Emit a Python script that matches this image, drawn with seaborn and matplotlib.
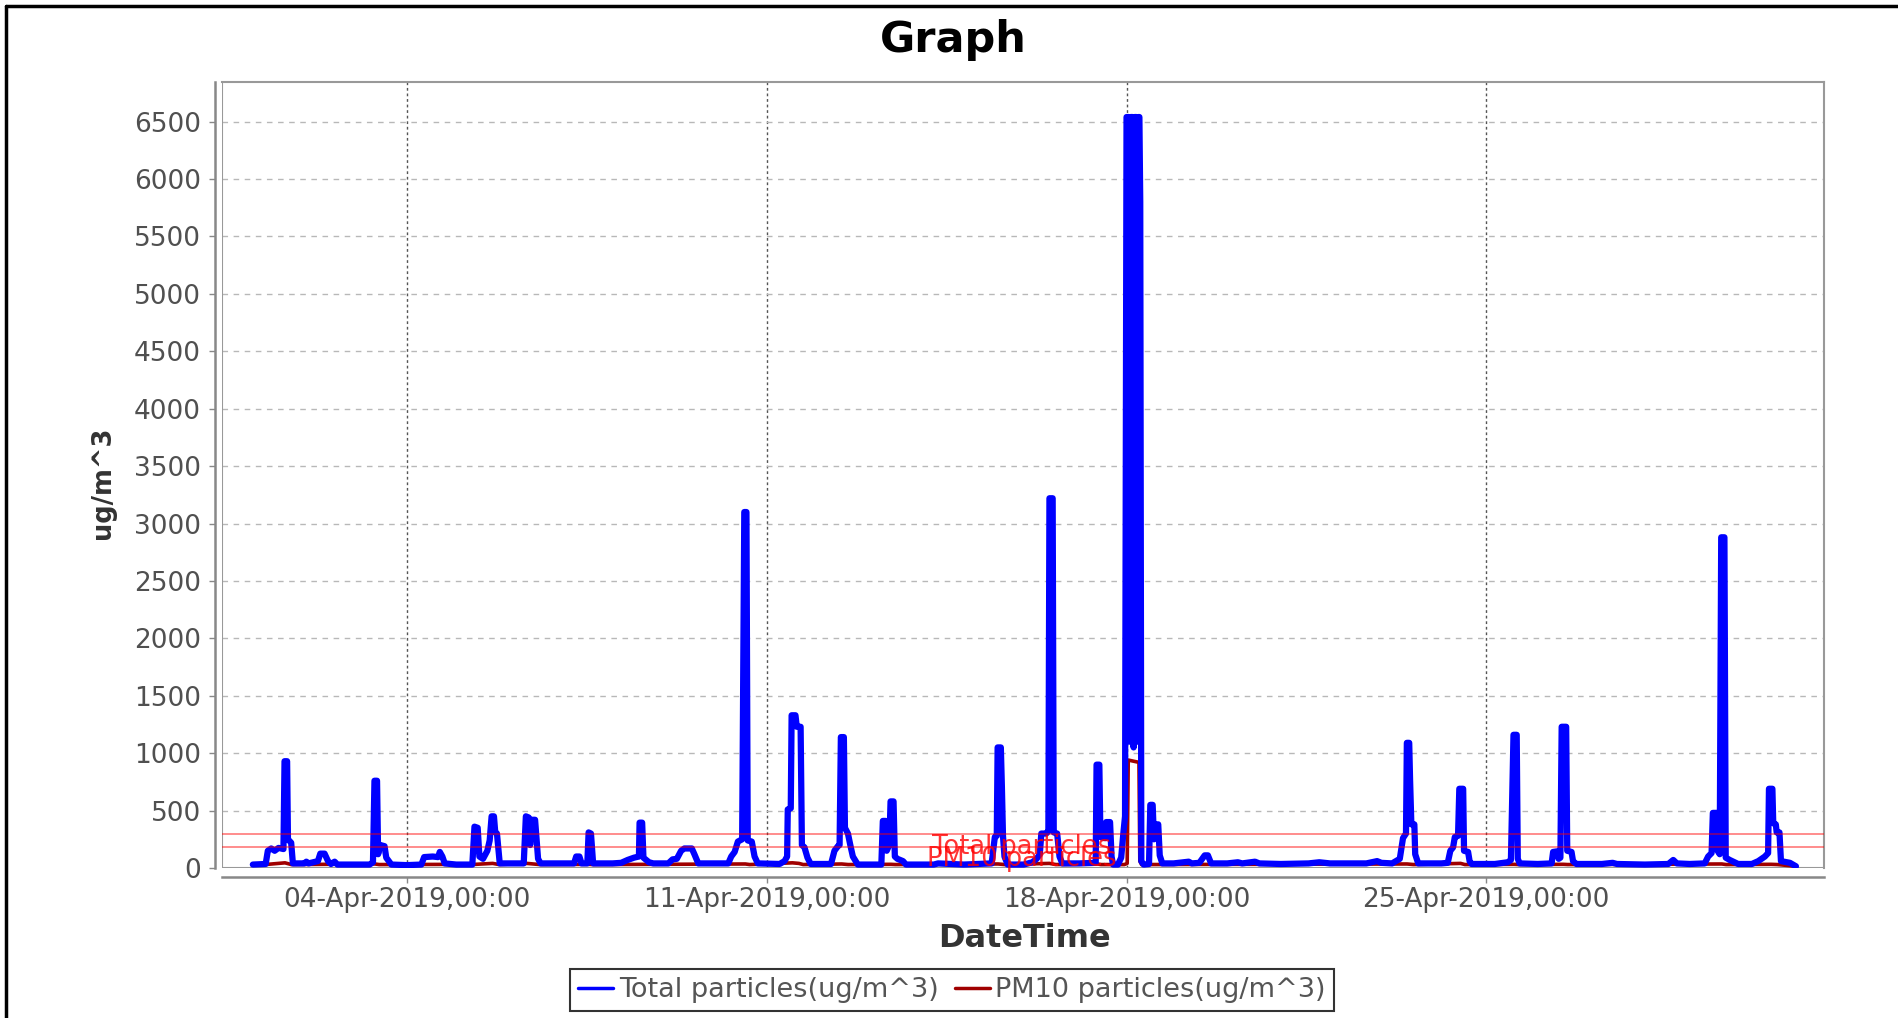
import matplotlib
matplotlib.use("Agg")
import matplotlib.pyplot as plt
import matplotlib.dates as mdates
from matplotlib.lines import Line2D
import pandas as pd
import seaborn as sns

START = pd.Timestamp("2019-04-01 00:00")

# hours after START, values in ug/m^3
total_hours = [
    0, 6, 7.0, 8.6, 10.2, 12, 14.3, 14.8, 16.0, 16.4, 17.9, 18.7,
    24, 25, 26, 30.4, 31.5, 33.5, 35.1, 36.5, 38.2, 39.5,
    54.5, 56.1, 56.8, 58.0, 58.5, 59.5, 61.5, 62.3, 64.7,
    72, 78.7, 80, 84, 86.5, 87.3, 88.5, 89.6, 95, 102.5,
    103.5, 105.0, 105.8, 107.5, 109.5, 110.6, 111.5, 112.6, 113.2, 114.0, 115.3,
    126.5, 127.5, 128.8, 129.5, 130.3, 131.8, 133.2, 134.4,
    150, 151.0, 152.5, 153.5, 156.2, 156.8, 157.9, 158.9,
    168, 172, 175, 178, 180.3, 180.6, 181.8, 182.4, 185, 187,
    194, 196, 198, 200, 201.5, 205, 206.2, 208,
    222, 223.4, 225, 226.5, 228.5, 229.5, 230.5, 231.1, 233, 234.3, 235.8,
    246, 248.3, 249.5, 249.8, 251.2, 251.6, 253.4, 254.0, 255.8, 256.4, 257.6, 259, 260.5,
    270, 271.6, 273.2, 274.0, 274.6, 276.0, 276.5, 277.9, 279, 280.2, 282.5,
    293.5, 294.2, 295.5, 296.0, 297.2, 297.8, 299.2, 299.8, 301, 303.6, 305,
    318, 320, 326, 332, 345.0, 346.5, 347.4, 347.8, 349.3, 349.8, 350.3, 351.0, 352.5,
    360, 364, 366, 367.5, 368.2, 370.5, 371.5, 372.0, 373.5, 374.0, 375.6, 376.7, 378.0,
    386, 393.6, 394.0, 395.3, 395.8, 398.0, 398.5, 400.3, 401.0, 401.7,
    404, 405.5, 406.5, 407.3, 408.0, 409.0, 409.5, 410.0, 410.8, 411.3, 411.8,
    412.6, 413.1, 413.6, 414.0, 414.4, 414.9,
    416, 418.5, 419.1, 420.2, 420.8, 421.5, 422.8, 423.5, 424.7,
    430, 437, 438.5, 442, 444.5, 446, 447.5,
    455, 460, 462, 468, 470, 480, 493, 498, 503, 520, 525, 527, 532,
    535.6, 537.1, 538.5, 538.9, 540.0, 540.4, 541.0, 542.4, 542.8, 544.2,
    555, 558, 559.2, 560.5, 561.3, 562.8, 563.4, 565.2, 565.6, 567.5, 568.2, 569.1,
    580, 586, 587.5, 588.7, 590.2, 590.7, 591.6,
    600, 606.5, 607.2, 609.0, 609.8, 610.6, 611.2, 613.3, 613.8, 615.8, 616.5, 618.1,
    630, 635, 637, 650, 661, 663.3, 665, 671, 678, 679.6, 681.2, 681.8, 683.5,
    684.0, 685.0, 685.7, 687.2, 687.8, 689.7, 693.6,
    700, 703.0, 706.1, 707.6, 708.0, 709.6, 710.0, 711.2, 711.6, 712.9, 713.6, 717.8, 720.6,
]
total_values = [
    30, 35, 150, 170, 150, 175, 165, 930, 930, 250, 220, 40,
    40, 55, 40, 60, 125, 125, 60, 35, 55, 30,
    30, 50, 760, 760, 120, 200, 190, 90, 30,
    25, 30, 95, 100, 95, 140, 100, 40, 30, 30,
    360, 350, 100, 80, 150, 240, 450, 450, 310, 300, 40,
    40, 450, 440, 200, 420, 420, 80, 40,
    40, 100, 100, 40, 40, 310, 300, 40,
    40, 45, 70, 90, 100, 395, 395, 90, 50, 40,
    40, 75, 80, 150, 170, 170, 120, 40,
    40, 100, 140, 230, 250, 3100, 3100, 240, 230, 100, 40,
    35, 60, 100, 510, 520, 1330, 1330, 1230, 1230, 200, 180, 90, 35,
    35, 150, 190, 200, 1140, 1140, 350, 300, 200, 100, 30,
    30, 410, 410, 150, 200, 580, 580, 100, 80, 60, 30,
    30, 40, 35, 30, 40, 270, 280, 1050, 1050, 700, 280, 100, 30,
    30, 50, 80, 120, 300, 300, 320, 3220, 3220, 310, 300, 100, 40,
    40, 45, 900, 900, 270, 260, 400, 400, 100, 30,
    30, 90, 300, 450, 6540, 6540, 1100, 6540, 6540, 1050, 6540,
    6540, 1100, 6540, 6540, 5800, 60,
    30, 35, 550, 550, 250, 380, 380, 110, 40,
    40, 55, 40, 45, 110, 110, 40,
    40, 50, 40, 55, 40, 35, 40, 50, 40, 40, 60, 45, 40,
    80, 260, 300, 1090, 1090, 770, 380, 380, 120, 40,
    40, 45, 150, 180, 270, 280, 690, 690, 150, 140, 60, 35,
    35, 50, 70, 1160, 1160, 80, 40,
    35, 40, 140, 145, 80, 90, 1230, 1230, 150, 140, 60, 35,
    35, 45, 35, 30, 35, 70, 40, 35, 40, 100, 130, 480, 480,
    150, 120, 2880, 2880, 90, 70, 35,
    35, 60, 100, 130, 690, 690, 390, 380, 310, 310, 60, 45, 15,
]

pm10_hours = [
    0, 7, 15, 18, 57, 59, 104, 112, 115, 128, 131, 134, 157, 159,
    230, 232, 252, 255, 257, 275, 278, 298, 300, 348, 351, 372, 375,
    394.5, 396, 407, 408.3, 408.8, 413.8, 414.2, 415,
    539, 542, 564, 566, 589, 591, 612, 614, 686, 688, 709, 712, 720.6,
]
pm10_values = [
    30, 32, 45, 30, 35, 30, 32, 40, 30, 40, 35, 30, 32, 30,
    35, 30, 45, 40, 30, 35, 30, 32, 30, 35, 30, 40, 30,
    35, 30, 30, 40, 940, 920, 60, 30,
    35, 30, 40, 30, 32, 30, 32, 30, 35, 30, 32, 30, 15,
]

limit_names = ["Total particles", "PM10 particles"]
limit_values = [300, 180]
limit_label_hours = [317.0, 314.6]
limit_label_values = [183, 78]

series_names = ["Total particles(ug/m^3)", "PM10 particles(ug/m^3)"]
series_colors = ["#0000ff", "#a00000"]

df_total = pd.DataFrame({"time": START + pd.to_timedelta(total_hours, unit="h"),
                         "value": total_values})
df_pm10 = pd.DataFrame({"time": START + pd.to_timedelta(pm10_hours, unit="h"),
                        "value": pm10_values})

sns.set_theme(style="white")
plt.rcParams["font.family"] = ["DejaVu Sans"]

fig = plt.figure(figsize=(18.98, 10.18), dpi=100)
ax = fig.add_axes([222 / 1898, 150 / 1018, 1602 / 1898, 786 / 1018])

sns.lineplot(data=df_pm10, x="time", y="value", color=series_colors[1], lw=2.6,
             estimator=None, ax=ax, zorder=2)
sns.lineplot(data=df_total, x="time", y="value", color=series_colors[0], lw=4.5,
             estimator=None, ax=ax, zorder=2.5)

for name, val, lh, lv in zip(limit_names, limit_values, limit_label_hours, limit_label_values):
    ax.axhline(val, color="red", alpha=0.45, lw=1.4, zorder=3)
    ax.text(START + pd.Timedelta(hours=lh), lv, name, color="red", alpha=0.8,
            fontsize=18.5, va="center", ha="left", zorder=4)

ax.set_xlim(START - pd.Timedelta(hours=14.4), START + pd.Timedelta(hours=733.7))
ax.set_ylim(0, 6845)
ax.set_yticks(range(0, 6501, 500))
ax.xaxis.set_major_locator(mdates.DayLocator(bymonthday=[4, 11, 18, 25]))
ax.xaxis.set_major_formatter(mdates.DateFormatter("%d-%b-%Y,%H:%M"))

ax.grid(True, axis="x", color="#555555", ls=(0, (2, 2)), lw=1.0)
ax.grid(True, axis="y", color="#b8b8b8", ls=(0, (4, 4)), lw=1.0)

for side in ["top", "right"]:
    ax.spines[side].set_visible(True)
    ax.spines[side].set_color("#999999")
    ax.spines[side].set_linewidth(1.5)
ax.spines["left"].set_position(("outward", 5))
ax.spines["bottom"].set_position(("outward", 6.5))
for side in ["left", "bottom"]:
    ax.spines[side].set_color("#888888")
    ax.spines[side].set_linewidth(1.8)
ax.axvline(ax.get_xlim()[0], color="#999999", lw=1.5, zorder=1)
ax.axhline(0, color="#999999", lw=1.5, zorder=1)

ax.tick_params(axis="both", which="major", direction="out", length=4, width=1,
               color="#888888", labelsize=19, labelcolor="#505050")
ax.tick_params(axis="x", pad=3)
ax.tick_params(axis="y", pad=6, left=True)
ax.tick_params(axis="x", bottom=True)

ax.set_xlabel("DateTime", fontsize=23, fontweight="bold", color="#333333")
ax.set_ylabel("ug/m^3", fontsize=18.5, fontweight="bold", color="#333333")
ax.xaxis.set_label_coords(0.5006, -0.0706)
ax.yaxis.set_label_coords(-0.066, 0.49)

fig.text(953 / 1898, 1 - 40 / 1018, "Graph", fontsize=31, fontweight="bold",
         ha="center", va="center", color="black")

handles = [Line2D([], [], color=c, lw=2.5) for c in series_colors]
leg = fig.legend(handles, series_names, loc="center", bbox_to_anchor=(0.5016, 0.0275),
                 ncol=2, fontsize=19.5, frameon=True, fancybox=False, edgecolor="black",
                 handlelength=1.3, handletextpad=0.2, columnspacing=0.6,
                 borderpad=0.3, labelcolor="#555555")
leg.get_frame().set_linewidth(1.5)

fig.add_artist(Line2D([0.0032, 0.0032], [0, 0.9941], color="black", lw=2.5,
                      transform=fig.transFigure))
fig.add_artist(Line2D([0.0032, 1], [0.9941, 0.9941], color="black", lw=2.5,
                      transform=fig.transFigure))

fig.savefig("out.png", dpi=100)
